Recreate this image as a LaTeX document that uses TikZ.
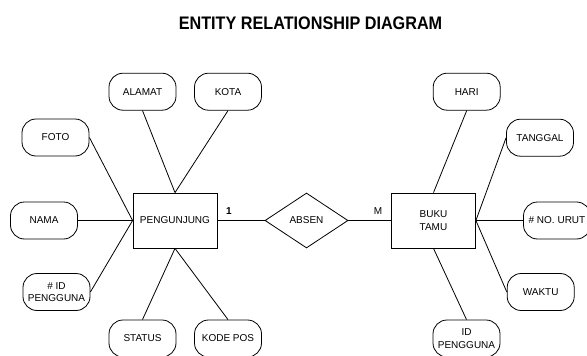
\documentclass[tikz,border=0pt]{standalone}
\usepackage{fontspec}
\setmainfont{Liberation Sans}
\usetikzlibrary{shapes.geometric}
\begin{document}
\begin{tikzpicture}[x=1pt,y=-1pt,
  attr/.style={draw,line width=0.8pt,rounded corners=14pt,minimum width=67pt,minimum height=37pt,inner sep=0pt,align=center,font=\fontsize{10}{12.5}\selectfont},
  ent/.style={draw,line width=0.8pt,minimum width=84pt,minimum height=55pt,inner sep=0pt,align=center,font=\fontsize{10}{13}\selectfont},
  rel/.style={draw,diamond,line width=0.8pt,minimum width=83pt,minimum height=55pt,inner sep=0pt,font=\fontsize{10}{12.5}\selectfont},
  link/.style={draw,line width=0.8pt},
  card/.style={inner sep=0pt,font=\fontsize{10}{12}\selectfont}]
\useasboundingbox[fill=white] (0,0) rectangle (587,356);
\node[inner sep=0pt,font=\fontsize{16.2}{19}\bfseries] (title) at (310.5,23.5) {\scalebox{1}[1.12]{ENTITY RELATIONSHIP DIAGRAM}};

\node[ent] (peng) at (175,220.5) {PENGUNJUNG};
\node[rel] (absen) at (306.5,220.5) {ABSEN};
\node[ent] (buku) at (433.5,220.5) {BUKU\\TAMU};

\node[attr] (alamat) at (142.5,91.7) {ALAMAT};
\node[attr] (kota) at (228,91.7) {KOTA};
\node[attr] (foto) at (55.5,137.5) {FOTO};
\node[attr] (nama) at (44,220.5) {NAMA};
\node[attr] (idp) at (56.5,292) {\# ID\\PENGGUNA};
\node[attr] (status) at (142.5,338.5) {STATUS};
\node[attr] (kodepos) at (228,338.5) {KODE POS};

\node[attr] (hari) at (466.7,91.7) {HARI};
\node[attr] (tanggal) at (540,137.7) {TANGGAL};
\node[attr] (nourut) at (557,220.5) {\# NO. URUT};
\node[attr] (waktu) at (540.7,292) {WAKTU};
\node[attr] (idp2) at (466.5,338.5) {ID\\PENGGUNA};

\draw[link] (alamat.south) -- (peng.north);
\draw[link] (kota.south) -- (peng.north);
\draw[link] (foto.east) -- (peng.west);
\draw[link] (nama.east) -- (peng.west);
\draw[link] (idp.east) -- (peng.west);
\draw[link] (status.north) -- (peng.south);
\draw[link] (kodepos.north) -- (peng.south);

\draw[link] (peng.east) -- (absen.west);
\draw[link] (absen.east) -- (buku.west);

\draw[link] (hari.south) -- (buku.north);
\draw[link] (tanggal.west) -- (buku.east);
\draw[link] (nourut.west) -- (buku.east);
\draw[link] (waktu.west) -- (buku.east);
\draw[link] (idp2.north) -- (buku.south);

\node[card,font=\fontsize{10}{12}\bfseries] (c1) at (229,211) {1};
\node[card] (cm) at (378,211) {M};
\end{tikzpicture}
\end{document}
